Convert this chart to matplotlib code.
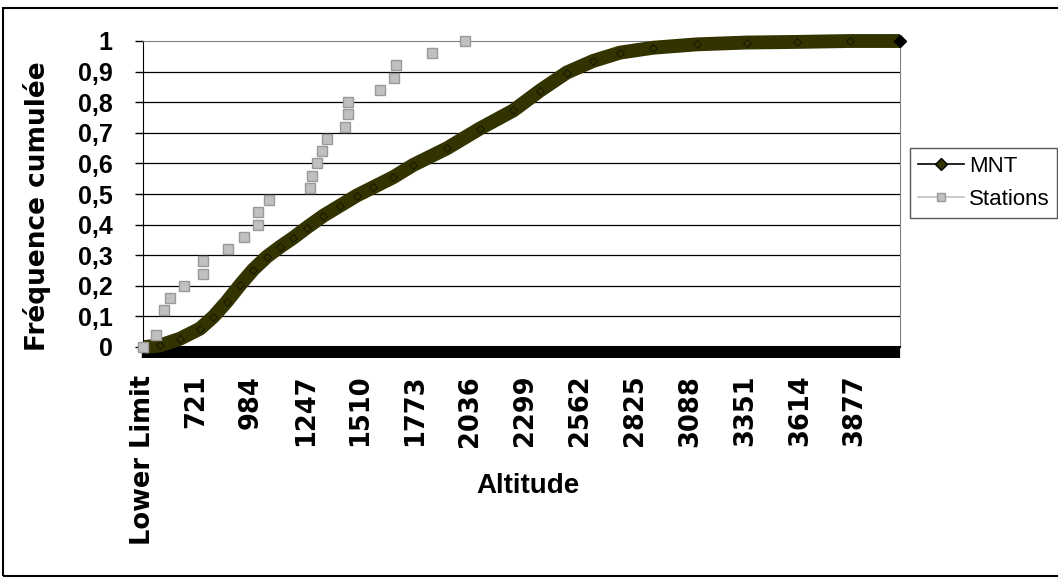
import matplotlib
matplotlib.use('Agg')
import matplotlib.pyplot as plt
from matplotlib.lines import Line2D
from matplotlib.patches import Rectangle
import numpy as np

plt.rcParams['font.family'] = ['Liberation Sans', 'DejaVu Sans']

# MNT cumulative frequency (altitude in m, cumulative frequency)
mnt_alt = [475, 549, 645, 741, 805, 869, 933, 996, 1061, 1124, 1188, 1252,
           1332, 1412, 1492, 1571, 1667, 1763, 1923, 2082, 2242, 2370, 2498,
           2625, 2753, 2912, 3120, 3360, 3599, 3855, 4094]
mnt_freq = [0.0, 0.005, 0.027, 0.060, 0.099, 0.148, 0.203, 0.253, 0.295,
            0.327, 0.357, 0.390, 0.429, 0.462, 0.495, 0.522, 0.555, 0.595,
            0.649, 0.714, 0.773, 0.838, 0.897, 0.935, 0.962, 0.978, 0.989,
            0.995, 0.997, 1.0, 1.0]

# Stations cumulative frequency
stations_alt = [468, 530, 570, 597, 664, 757, 757, 877, 952, 1020, 1020, 1072,
                1266, 1276, 1301, 1327, 1351, 1436, 1451, 1451, 1605, 1672,
                1680, 1851, 2010]
stations_freq = [0.00, 0.04, 0.12, 0.16, 0.20, 0.24, 0.28, 0.32, 0.36, 0.40,
                 0.44, 0.48, 0.52, 0.56, 0.60, 0.64, 0.68, 0.72, 0.76, 0.80,
                 0.84, 0.88, 0.92, 0.96, 1.00]

tick_pos = [470, 721, 984, 1247, 1510, 1773, 2036, 2299, 2562, 2825, 3088,
            3351, 3614, 3877]
tick_labels = ['Lower Limit'] + [str(t) for t in tick_pos[1:]]
bin_width = 263 / 30

W, H = 1058, 579
fig = plt.figure(figsize=(W / 100, H / 100), dpi=100)
ax = fig.add_axes([143 / W, 1 - 347 / H, 757 / W, 306 / H])

# chart area border
fig.patches.append(Rectangle((3 / W, 3 / H), 1.0, 1 - 11 / H,
                             transform=fig.transFigure, fill=False,
                             edgecolor='black', linewidth=1.5))

for v in np.arange(0.1, 0.95, 0.1):
    ax.axhline(v, color='black', linewidth=0.9, zorder=1)

ax.plot(mnt_alt, mnt_freq, color='#333300', linewidth=10, solid_capstyle='butt',
        solid_joinstyle='round', marker='D', markersize=4,
        markerfacecolor='#333300', markeredgecolor='black',
        markeredgewidth=0.4, clip_on=False, zorder=3)
ax.plot([mnt_alt[-1]], [mnt_freq[-1]], marker='D', markersize=6, color='black',
        clip_on=False, zorder=4)
ax.plot(stations_alt, stations_freq, linestyle='none', marker='s',
        markersize=6.5, markerfacecolor='#c0c0c0', markeredgecolor='#999999',
        markeredgewidth=1, clip_on=False, zorder=5)

ax.set_xlim(468, 4094)
ax.set_ylim(0, 1)
ax.set_yticks(np.arange(0, 1.01, 0.1))
ax.set_yticklabels(['0', '0,1', '0,2', '0,3', '0,4', '0,5', '0,6', '0,7',
                    '0,8', '0,9', '1'], fontsize=18, fontweight='bold')
ax.set_xticks(tick_pos)
ax.set_xticklabels(tick_labels, rotation=90, fontsize=18.5, fontweight='bold',
                   family='DejaVu Sans', va='top')
ax.set_xticks(np.arange(468, 4094, bin_width), minor=True)
ax.tick_params(axis='x', which='both', length=8, width=1.6, color='black',
               direction='out', pad=12)
ax.tick_params(axis='y', length=6, width=1, direction='out', pad=16)

for side in ['top', 'right']:
    ax.spines[side].set_color('#808080')
ax.spines['left'].set_color('black')
ax.spines['bottom'].set_color('black')
ax.spines['bottom'].set_linewidth(1.5)

ax.set_ylabel('Fréquence cumulée', fontsize=19, fontweight='bold',
              family='DejaVu Sans', va='center')
ax.yaxis.set_label_coords((37 - 143) / 757, (347 - 206) / 306)
ax.set_xlabel('Altitude', fontsize=20, fontweight='bold', va='center')
ax.xaxis.set_label_coords((528 - 143) / 757, -(486 - 347) / 306)

handles = [
    Line2D([], [], color='black', linewidth=1.2, marker='D', markersize=6,
           markerfacecolor='#333300', markeredgecolor='black'),
    Line2D([], [], color='#c0c0c0', linewidth=1.2, marker='s', markersize=6,
           markerfacecolor='#c0c0c0', markeredgecolor='#999999'),
]
leg = fig.legend(handles, ['MNT', 'Stations'], loc='upper left',
                 bbox_to_anchor=(910 / W, 1 - 148 / H), fontsize=16,
                 frameon=True, fancybox=False, edgecolor='#555555',
                 framealpha=1, handlelength=2.1, handletextpad=0.2,
                 borderaxespad=0, borderpad=0.35, labelspacing=0.55)
leg.get_frame().set_linewidth(1)

fig.savefig('out.png', dpi=100)
